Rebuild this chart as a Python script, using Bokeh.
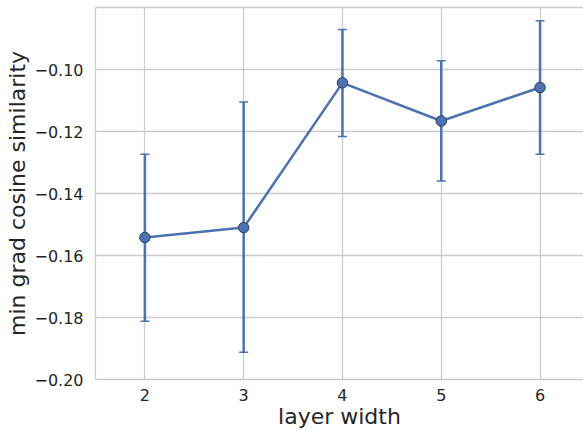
from bokeh.plotting import figure
from bokeh.models import ColumnDataSource, Whisker, TeeHead, FixedTicker, Range1d, LinearAxis
from bokeh.embed import file_html
from bokeh.resources import INLINE

layer_width = [2, 3, 4, 5, 6]
mean_sim = [-0.1542, -0.1510, -0.1043, -0.1166, -0.1058]
upper_sim = [-0.1273, -0.1105, -0.0871, -0.0972, -0.0843]
lower_sim = [-0.1812, -0.1912, -0.1216, -0.1360, -0.1273]
y_ticks = [-0.20, -0.18, -0.16, -0.14, -0.12, -0.10]

COLOR = "#4C72B0"
TEXT = "#262626"
GRID = "#cccccc"
FONT = "DejaVu Sans"

src = ColumnDataSource(dict(x=layer_width, y=mean_sim, up=upper_sim, lo=lower_sim))

p = figure(width=583, height=431, output_backend="svg", toolbar_location=None,
           x_range=Range1d(1.5, 6.44), y_range=Range1d(-0.20, -0.08),
           min_border_left=95, min_border_right=0, min_border_top=7, min_border_bottom=52)
p.outline_line_color = None
p.background_fill_color = "white"
p.border_fill_color = "white"

w = Whisker(source=src, base="x", upper="up", lower="lo", line_color=COLOR, line_width=2.5,
            upper_head=TeeHead(size=9, line_color=COLOR, line_width=1.5),
            lower_head=TeeHead(size=9, line_color=COLOR, line_width=1.5))
p.add_layout(w)
p.line("x", "y", source=src, line_color=COLOR, line_width=2.5)
p.scatter("x", "y", source=src, size=10.5, fill_color=COLOR, line_color="#2a3f66", line_width=1)

p.xaxis.ticker = FixedTicker(ticks=layer_width)
p.yaxis.ticker = FixedTicker(ticks=y_ticks)
p.yaxis.major_label_overrides = {t: ("%.2f" % t).replace("-", "\u2212") for t in y_ticks}
p.xaxis.axis_label = "layer width"
p.yaxis.axis_label = "min grad cosine similarity"

for ax in (p.xaxis[0], p.yaxis[0]):
    ax.axis_line_color = GRID
    ax.axis_line_width = 1.3
    ax.major_tick_line_color = None
    ax.minor_tick_line_color = None
    ax.major_label_text_font = FONT
    ax.major_label_text_font_size = "16px"
    ax.major_label_text_color = TEXT
    ax.axis_label_text_font = FONT
    ax.axis_label_text_font_size = "22px"
    ax.axis_label_text_color = TEXT
    ax.axis_label_text_font_style = "normal"
p.yaxis.major_label_standoff = 6
p.yaxis.axis_label_standoff = 1
p.xaxis.major_label_standoff = 3
p.xaxis.axis_label_standoff = 0

top = LinearAxis(ticker=FixedTicker(ticks=[]), axis_line_color=GRID, axis_line_width=1.3,
                 major_tick_line_color=None, minor_tick_line_color=None)
p.add_layout(top, "above")

p.xgrid.grid_line_color = GRID
p.ygrid.grid_line_color = GRID
p.xgrid.grid_line_width = 1.3
p.ygrid.grid_line_width = 1.3

open("out.html", "w").write(file_html(p, INLINE))
